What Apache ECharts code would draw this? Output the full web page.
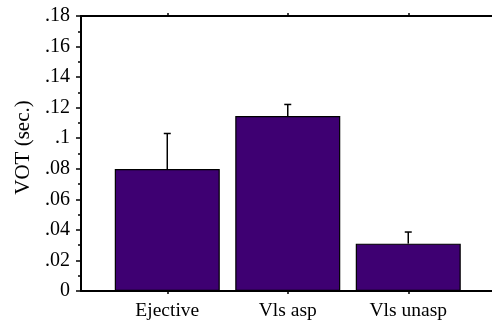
<!DOCTYPE html>
<html>
<head>
<meta charset="utf-8">
<script src="https://cdn.jsdelivr.net/npm/echarts@6/dist/echarts.min.js"></script>
<style>html,body{margin:0;padding:0;background:#fff}#c{width:492px;height:326px}</style>
</head>
<body>
<div id="c"></div>
<script>
const categories = ['Ejective', 'Vls asp', 'Vls unasp'];
const categoryPositions = [1, 2, 3];
const vot = [0.0798, 0.1145, 0.031];
const errorTop = [0.1031, 0.1221, 0.0386];
const yTickValues = [0, 0.02, 0.04, 0.06, 0.08, 0.1, 0.12, 0.14, 0.16, 0.18];
const yTickLabels = ['0', '.02', '.04', '.06', '.08', '.1', '.12', '.14', '.16', '.18'];
const yTitle = 'VOT (sec.)';

const FONT = 'Liberation Serif';
const chart = echarts.init(document.getElementById('c'), null, {renderer: 'canvas'});

const xCommon = {
  type: 'value', min: 0.284, max: 3.695,
  splitLine: {show: false},
  axisLine: {show: true, lineStyle: {color: '#000', width: 2}},
};

chart.setOption({
  animation: false,
  backgroundColor: '#fff',
  grid: {left: 81, right: 0, top: 16, bottom: 35, containLabel: false},
  xAxis: [
    Object.assign({}, xCommon, {
      position: 'bottom',
      axisTick: {show: true, length: 3, customValues: categoryPositions, lineStyle: {color: '#000', width: 1.5}},
      axisLabel: {
        show: true, customValues: categoryPositions, margin: 10,
        color: '#000', fontFamily: FONT, fontSize: 19.5,
        formatter: v => categories[categoryPositions.indexOf(Math.round(v))] || ''
      }
    }),
    Object.assign({}, xCommon, {
      position: 'top',
      axisTick: {show: true, length: 3, customValues: categoryPositions, lineStyle: {color: '#000', width: 1.5}},
      axisLabel: {show: false}
    })
  ],
  yAxis: {
    type: 'value', min: 0, max: 0.18, interval: 0.02,
    name: yTitle, nameLocation: 'middle', nameRotate: 90, nameGap: 46,
    nameTextStyle: {color: '#000', fontFamily: FONT, fontSize: 21, padding: [0, 0, 0, 12]},
    splitLine: {show: false},
    axisLine: {show: true, lineStyle: {color: '#000', width: 2}},
    axisTick: {show: true, length: 5, lineStyle: {color: '#000', width: 1.5}},
    minorTick: {show: true, splitNumber: 2, length: 3, lineStyle: {color: '#000', width: 1.5}},
    axisLabel: {
      color: '#000', fontFamily: FONT, fontSize: 20, margin: 11,
      formatter: v => {
        const i = yTickValues.findIndex(t => Math.abs(t - v) < 1e-9);
        return i >= 0 ? yTickLabels[i] : '';
      }
    }
  },
  series: [
    {
      type: 'bar', xAxisIndex: 0,
      barWidth: 105,
      data: categoryPositions.map((x, i) => [x, vot[i]]),
      itemStyle: {color: '#3e0072', borderColor: '#000', borderWidth: 1.2}
    },
    {
      type: 'custom', xAxisIndex: 0,
      data: categoryPositions.map((x, i) => [x, vot[i], errorTop[i]]),
      renderItem: (params, api) => {
        const base = api.coord([api.value(0), api.value(1)]);
        const top = api.coord([api.value(0), api.value(2)]);
        const style = {stroke: '#000', lineWidth: 1.5};
        return {
          type: 'group',
          children: [
            {type: 'line', shape: {x1: base[0], y1: base[1], x2: top[0], y2: top[1]}, style},
            {type: 'line', shape: {x1: top[0] - 3.5, y1: top[1], x2: top[0] + 3.5, y2: top[1]}, style}
          ]
        };
      },
      z: 5
    }
  ]
});
</script>
</body>
</html>
